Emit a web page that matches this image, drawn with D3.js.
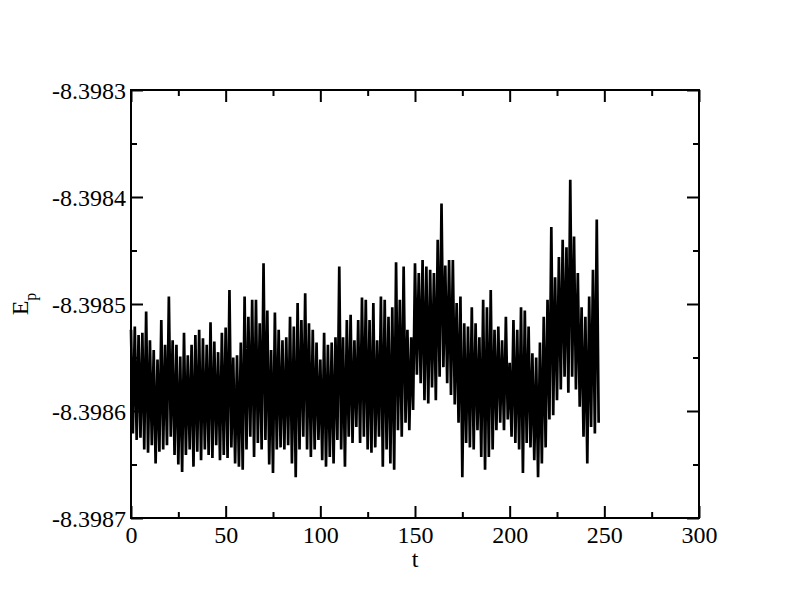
<!DOCTYPE html>
<html>
<head>
<meta charset="utf-8">
<script src="https://cdn.jsdelivr.net/npm/d3@7"></script>
<style>
  html, body { margin: 0; padding: 0; background: #fff; }
  svg { display: block; }
  svg text { font-family: 'Liberation Serif', 'Times New Roman', serif; }
</style>
</head>
<body>
<div id="chart"></div>
<script>
// ─── Data ──────────────────────────────────────────────────────────────
// Potential energy Ep vs time t. The trace is very noisy, so it is kept as
// alternating peak / trough readings: peak at t = 2i, trough at t = 2i + 1.
const epPeaks = [
  -8.398524, -8.398521, -8.398529, -8.398527, -8.398507, -8.398534, -8.398543, -8.398552,
  -8.398515, -8.398538, -8.398493, -8.398534, -8.398538, -8.398549, -8.398527, -8.398548,
  -8.398538, -8.398529, -8.398524, -8.398532, -8.398538, -8.398517, -8.398535, -8.398545,
  -8.398527, -8.398522, -8.398487, -8.398550, -8.398548, -8.398536, -8.398493, -8.398512,
  -8.398496, -8.398496, -8.398518, -8.398462, -8.398506, -8.398543, -8.398508, -8.398524,
  -8.398534, -8.398531, -8.398512, -8.398521, -8.398499, -8.398515, -8.398490, -8.398518,
  -8.398524, -8.398536, -8.398552, -8.398527, -8.398538, -8.398536, -8.398531, -8.398465,
  -8.398531, -8.398515, -8.398510, -8.398534, -8.398515, -8.398494, -8.398496, -8.398515,
  -8.398499, -8.398534, -8.398493, -8.398496, -8.398512, -8.398503, -8.398461, -8.398496,
  -8.398465, -8.398524, -8.398531, -8.398462, -8.398471, -8.398459, -8.398465, -8.398468,
  -8.398471, -8.398440, -8.398406, -8.398464, -8.398459, -8.398459, -8.398499, -8.398493,
  -8.398518, -8.398521, -8.398503, -8.398518, -8.398531, -8.398496, -8.398503, -8.398487,
  -8.398524, -8.398521, -8.398534, -8.398512, -8.398555, -8.398515, -8.398524, -8.398503,
  -8.398506, -8.398521, -8.398546, -8.398550, -8.398536, -8.398512, -8.398496, -8.398428,
  -8.398475, -8.398456, -8.398440, -8.398447, -8.398384, -8.398437, -8.398471, -8.398503,
  -8.398512, -8.398493, -8.398468, -8.398421
];
const epTroughs = [
  -8.398621, -8.398627, -8.398625, -8.398636, -8.398639, -8.398632, -8.398649, -8.398638,
  -8.398636, -8.398632, -8.398624, -8.398641, -8.398650, -8.398657, -8.398641, -8.398636,
  -8.398652, -8.398638, -8.398646, -8.398636, -8.398641, -8.398644, -8.398632, -8.398646,
  -8.398641, -8.398644, -8.398634, -8.398649, -8.398652, -8.398655, -8.398636, -8.398624,
  -8.398643, -8.398630, -8.398636, -8.398627, -8.398650, -8.398658, -8.398636, -8.398634,
  -8.398636, -8.398632, -8.398649, -8.398662, -8.398636, -8.398624, -8.398636, -8.398643,
  -8.398636, -8.398627, -8.398646, -8.398652, -8.398643, -8.398649, -8.398627, -8.398636,
  -8.398652, -8.398624, -8.398630, -8.398615, -8.398630, -8.398624, -8.398636, -8.398639,
  -8.398634, -8.398624, -8.398652, -8.398636, -8.398649, -8.398655, -8.398618, -8.398624,
  -8.398611, -8.398618, -8.398599, -8.398566, -8.398574, -8.398590, -8.398593, -8.398578,
  -8.398590, -8.398568, -8.398559, -8.398574, -8.398585, -8.398594, -8.398611, -8.398662,
  -8.398630, -8.398634, -8.398636, -8.398618, -8.398643, -8.398655, -8.398643, -8.398636,
  -8.398618, -8.398611, -8.398618, -8.398608, -8.398624, -8.398630, -8.398636, -8.398658,
  -8.398630, -8.398634, -8.398646, -8.398662, -8.398649, -8.398634, -8.398608, -8.398604,
  -8.398590, -8.398580, -8.398568, -8.398583, -8.398568, -8.398580, -8.398596, -8.398624,
  -8.398649, -8.398615, -8.398621, -8.398611
];

const xMajorTicks = [0, 50, 100, 150, 200, 250, 300];
const xMinorTicks = [25, 75, 125, 175, 225, 275];
const xTickLabels = ['0', '50', '100', '150', '200', '250', '300'];

const yMajorTicks = [-8.3987, -8.3986, -8.3985, -8.3984, -8.3983];
const yMinorTicks = [-8.39865, -8.39855, -8.39845, -8.39835];
const yTickLabels = ['-8.3987', '-8.3986', '-8.3985', '-8.3984', '-8.3983'];

const xLabel = 't';
const yLabelMain = 'E';
const yLabelSub = 'p';

// ─── Layout ────────────────────────────────────────────────────────────
const W = 792, H = 609;
const margin = { top: 90, right: 93, bottom: 91, left: 131 };
const FS = 24;

const svg = d3.select('#chart').append('svg')
  .attr('width', W).attr('height', H)
  .style('background', '#fff');

const xScale = d3.scaleLinear().domain([0, 300]).range([margin.left, W - margin.right]);
const yScale = d3.scaleLinear().domain([-8.3987, -8.3983]).range([H - margin.bottom, margin.top]);

// interleave peaks and troughs into one trace
const trace = [];
epPeaks.forEach((v, i) => {
  trace.push([2 * i, v]);
  if (i < epTroughs.length) trace.push([2 * i + 1, epTroughs[i]]);
});

svg.append('path')
  .datum(trace)
  .attr('fill', 'none')
  .attr('stroke', '#000')
  .attr('stroke-width', 2.7)
  .attr('stroke-linejoin', 'bevel')
  .attr('d', d3.line().x(d => xScale(d[0])).y(d => yScale(d[1])));

// ─── Axes: inward ticks on all four sides ──────────────────────────────
function styleAxis(g) {
  g.attr('font-family', null);
  g.select('.domain').remove();
  g.selectAll('line').attr('stroke', '#000').attr('stroke-width', 2);
  g.selectAll('text').attr('fill', '#000').attr('font-size', FS);
}

const x0 = margin.left, x1 = W - margin.right;
const y0 = margin.top, y1 = H - margin.bottom;

// bottom
svg.append('g').attr('transform', `translate(0,${y1})`)
  .call(d3.axisBottom(xScale).tickValues(xMajorTicks).tickSize(-12)
    .tickFormat((d, i) => xTickLabels[i]))
  .call(styleAxis)
  .call(g => g.selectAll('text').attr('y', 25).attr('dy', 0));
svg.append('g').attr('transform', `translate(0,${y1})`)
  .call(d3.axisBottom(xScale).tickValues(xMinorTicks).tickSize(-6).tickFormat(''))
  .call(styleAxis);

// top
svg.append('g').attr('transform', `translate(0,${y0})`)
  .call(d3.axisTop(xScale).tickValues(xMajorTicks).tickSize(-12).tickFormat(''))
  .call(styleAxis);
svg.append('g').attr('transform', `translate(0,${y0})`)
  .call(d3.axisTop(xScale).tickValues(xMinorTicks).tickSize(-6).tickFormat(''))
  .call(styleAxis);

// left
svg.append('g').attr('transform', `translate(${x0},0)`)
  .call(d3.axisLeft(yScale).tickValues(yMajorTicks).tickSize(-12)
    .tickFormat((d, i) => yTickLabels[i]))
  .call(styleAxis)
  .call(g => g.selectAll('text').attr('x', -5).attr('dy', '0.34em'));
svg.append('g').attr('transform', `translate(${x0},0)`)
  .call(d3.axisLeft(yScale).tickValues(yMinorTicks).tickSize(-6).tickFormat(''))
  .call(styleAxis);

// right
svg.append('g').attr('transform', `translate(${x1},0)`)
  .call(d3.axisRight(yScale).tickValues(yMajorTicks).tickSize(-12).tickFormat(''))
  .call(styleAxis);
svg.append('g').attr('transform', `translate(${x1},0)`)
  .call(d3.axisRight(yScale).tickValues(yMinorTicks).tickSize(-6).tickFormat(''))
  .call(styleAxis);

// frame
svg.append('rect')
  .attr('x', x0).attr('y', y0)
  .attr('width', x1 - x0).attr('height', y1 - y0)
  .attr('fill', 'none').attr('stroke', '#000').attr('stroke-width', 2);

// ─── Axis titles ───────────────────────────────────────────────────────
svg.append('text')
  .attr('x', (x0 + x1) / 2).attr('y', 567)
  .attr('text-anchor', 'middle')
  .attr('font-size', FS)
  .text(xLabel);

const yTitle = svg.append('text')
  .attr('transform', `translate(28,${(y0 + y1) / 2}) rotate(-90)`)
  .attr('text-anchor', 'middle')
  .attr('font-size', FS);
yTitle.append('tspan').text(yLabelMain);
yTitle.append('tspan').attr('font-size', 16).attr('dy', 8).text(yLabelSub);
</script>
</body>
</html>
